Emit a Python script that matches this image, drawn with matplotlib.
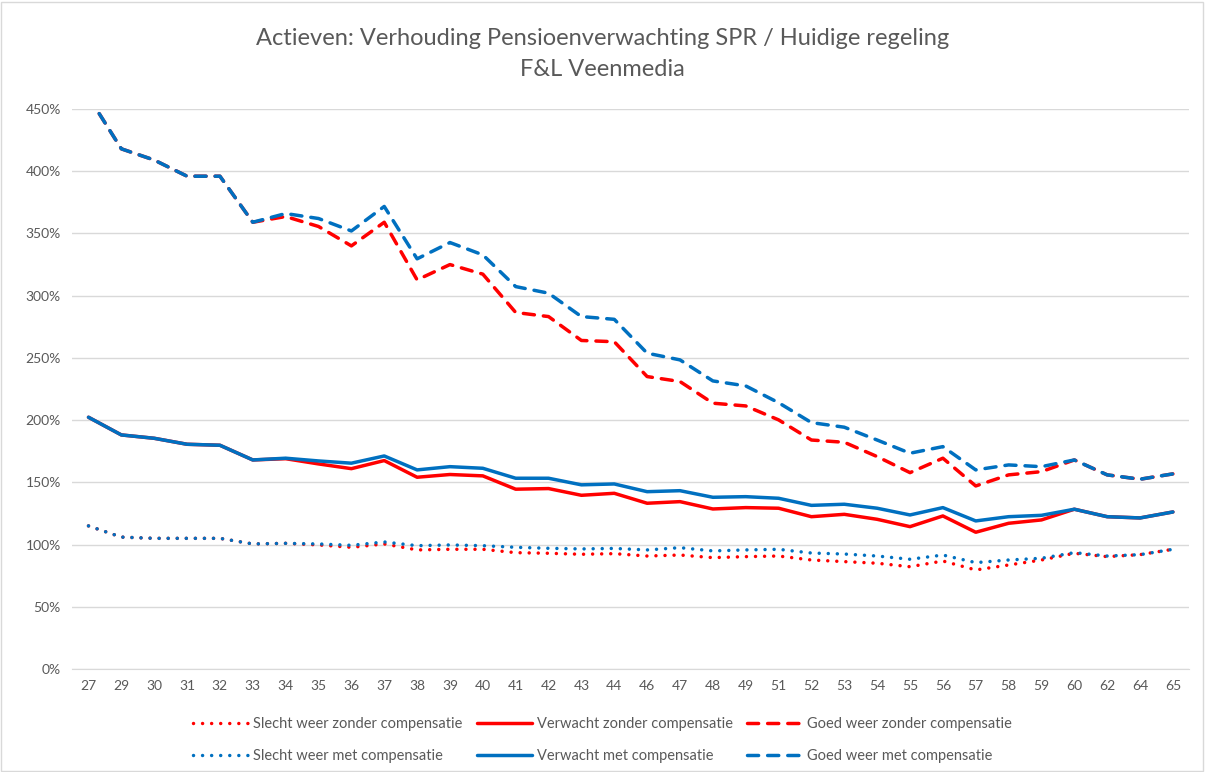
import matplotlib.pyplot as plt
from matplotlib.patches import Rectangle
from matplotlib.ticker import FuncFormatter, MultipleLocator

# leeftijden (categorie-as)
ages = ["27", "29", "30", "31", "32", "33", "34", "35", "36", "37", "38", "39",
        "40", "41", "42", "43", "44", "46", "47", "48", "49", "51", "52", "53",
        "54", "55", "56", "57", "58", "59", "60", "62", "64", "65"]

# verhouding SPR / huidige regeling in %
slecht_zonder = [115, 106, 105, 105, 105, 100.5, 101, 99.7, 97.8, 100.5, 95.7, 96.2,
                 96.2, 93.5, 93, 92.2, 92.7, 90.8, 91.6, 89.5, 90.3, 90.8, 87.6, 86.3,
                 85, 82.2, 86.8, 79.6, 83.6, 87.6, 93, 90.3, 91.9, 96.2]
verwacht_zonder = [202.3, 188.1, 185.4, 180.6, 179.8, 168, 169, 164.8, 161, 167.5, 154.1, 156.3,
                   155.2, 144.5, 145, 139.6, 141.2, 133.2, 134.5, 128.6, 129.7, 129.2, 122.4, 124.3,
                   120.3, 114.4, 123, 109.9, 117.1, 119.8, 128.4, 122.4, 121.4, 126.2]
goed_zonder = [460, 418, 409, 396, 396, 359, 363.6, 355.6, 340, 359, 312.7, 325,
               317.3, 286.5, 283.2, 264, 263, 235, 231, 213.6, 211.4, 200.2, 184, 182.2,
               170.7, 157.8, 169.4, 147.1, 156, 158.6, 168, 156, 152.5, 156.8]
slecht_met = [115, 106, 105, 105, 105, 100.5, 101, 100.5, 99.4, 102.1, 99.1, 99.7,
              99.1, 97.8, 97, 96.5, 96.9, 95.7, 97.5, 94.9, 95.7, 96.2, 93.2, 92.4,
              90.8, 88.2, 91.6, 85.5, 87.6, 89, 93.5, 90.8, 91.9, 96.2]
verwacht_met = [202.3, 188.1, 185.4, 180.6, 179.8, 168, 169.4, 167.2, 165.4, 171.2, 160, 162.6,
                161.3, 153.3, 153.3, 148, 148.7, 142.5, 143.3, 138, 138.5, 137.2, 131.5, 132.4,
                129.2, 123.8, 129.7, 119, 122.4, 123.5, 128.4, 122.4, 121.4, 126.2]
goed_met = [460, 418, 409, 396, 396, 359, 366, 362, 352, 371.7, 329.6, 342.7,
            332.8, 307.3, 302, 283.2, 281, 253.8, 248.4, 231.5, 227.5, 214, 198, 194.3,
            184, 173.4, 178.7, 160, 164, 162.6, 168, 156, 152.5, 156.8]

RED = "#FF0000"
BLUE = "#0070C0"
GREY = "#595959"

plt.rcParams["font.family"] = ["Lato", "DejaVu Sans"]

fig = plt.figure(figsize=(12.05, 7.72), dpi=100)
ax = fig.add_axes([0.0598, 0.1334, 0.9272, 0.7254])

x = range(len(ages))
dot = (0, (0.01, 2.6))
dash = (0, (3.2, 2.6))
lw = 2.5

series = [
    (slecht_zonder, RED, dot, "Slecht weer zonder compensatie"),
    (slecht_met, BLUE, dot, "Slecht weer met compensatie"),
    (verwacht_zonder, RED, "-", "Verwacht zonder compensatie"),
    (verwacht_met, BLUE, "-", "Verwacht met compensatie"),
    (goed_zonder, RED, dash, "Goed weer zonder compensatie"),
    (goed_met, BLUE, dash, "Goed weer met compensatie"),
]

# eerst alle 'zonder' lijnen, dan 'met' erbovenop
handles = {}
for vals, color, ls, label in series[0::2] + series[1::2]:
    (h,) = ax.plot(x, vals, color=color, linestyle=ls, linewidth=lw,
                   dash_capstyle="round", solid_capstyle="round",
                   solid_joinstyle="round", label=label)
    handles[label] = h

ax.set_xlim(-0.5, len(ages) - 0.5)
ax.set_ylim(0, 450)
ax.yaxis.set_major_locator(MultipleLocator(50))
ax.yaxis.set_major_formatter(FuncFormatter(lambda v, p: f"{v:.0f}%"))
ax.set_xticks(list(x))
ax.set_xticklabels(ages)

ax.grid(axis="y", color="#D9D9D9", linewidth=1)
ax.set_axisbelow(True)
for s in ["top", "right", "left"]:
    ax.spines[s].set_visible(False)
ax.spines["bottom"].set_color("#D9D9D9")
ax.tick_params(axis="both", length=0, colors=GREY, labelsize=10, pad=8)

fig.text(0.5, 1 - 28 / 772,
         "Actieven: Verhouding Pensioenverwachting SPR / Huidige regeling\nF&L Veenmedia",
         ha="center", va="top", fontsize=17, color=GREY, linespacing=1.6)

order = [s[3] for s in series]
fig.legend([handles[k] for k in order], order, loc="lower center",
           bbox_to_anchor=(0.5, -0.005), ncol=3, frameon=False, fontsize=10.5,
           labelcolor=GREY, handlelength=3.8, columnspacing=1.0,
           handletextpad=0.3, labelspacing=1.2)

fig.patches.append(Rectangle((0.001, 0.001), 0.997, 0.997, transform=fig.transFigure,
                             fill=False, edgecolor="#D9D9D9", linewidth=1))

fig.savefig("out.png", dpi=100)
